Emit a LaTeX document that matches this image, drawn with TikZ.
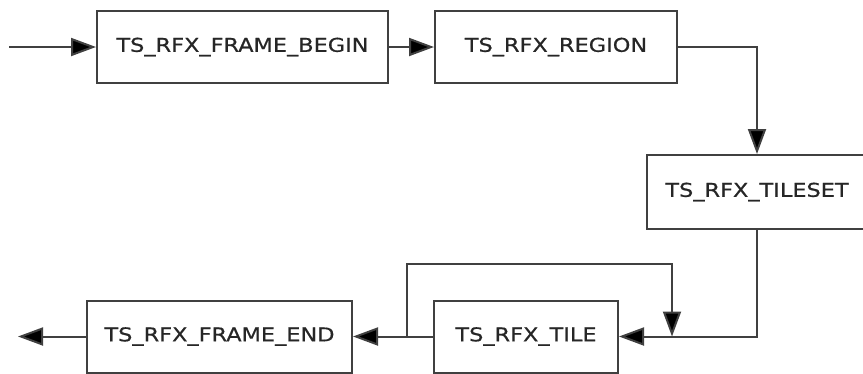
\documentclass[tikz,border=0pt]{standalone}
\usepackage{fontspec}
\newfontfamily\labfont[FakeStretch=1.18,FakeBold=0.6]{DejaVu Sans}
\usetikzlibrary{arrows.meta}
\definecolor{ln}{HTML}{404040}
\definecolor{tx}{HTML}{262626}
\tikzset{
  blk/.style={draw=ln, line width=2pt, rectangle, inner sep=0pt, text=tx,
    font=\labfont\fontsize{19}{21}\selectfont},
  arr/.style={draw=ln, line width=2pt, -{Triangle[length=25pt,width=18pt,fill=black]}},
  ln/.style={draw=ln, line width=2pt}
}
\begin{document}
\begin{tikzpicture}[x=1pt,y=-1pt]
\useasboundingbox (0,0) rectangle (863,373);
\clip (0,0) rectangle (863,373);
\node[blk, minimum width=291pt, minimum height=72pt] (begin) at (242.5,47) {TS\_RFX\_FRAME\_BEGIN};
\node[blk, minimum width=242pt, minimum height=72pt] (region) at (556,47) {TS\_RFX\_REGION};
\node[blk, minimum width=220pt, minimum height=74pt] (tileset) at (757,192) {TS\_RFX\_TILESET};
\node[blk, minimum width=184pt, minimum height=72pt] (tile) at (526,336.5) {TS\_RFX\_TILE};
\node[blk, minimum width=265pt, minimum height=72pt] (end) at (219.5,336.5) {TS\_RFX\_FRAME\_END};
\coordinate (in) at (9,47);
\coordinate (out) at (18,336.5);
\coordinate (j1) at (407,336.5);
\coordinate (lp) at (407,264);
\coordinate (lq) at (672,264);
\coordinate (lr) at (672,336.5);
\draw[arr] (in) -- (begin.west);
\draw[arr] (begin) -- (region);
\draw[arr] (region.east) -| (tileset.north);
\draw[arr] (tileset.south) |- (tile.east);
\draw[arr] (tile.west) -- (end.east);
\draw[arr] (end.west) -- (out);
\draw[arr] (j1) -- (lp) -- (lq) -- (lr);
\end{tikzpicture}
\end{document}
